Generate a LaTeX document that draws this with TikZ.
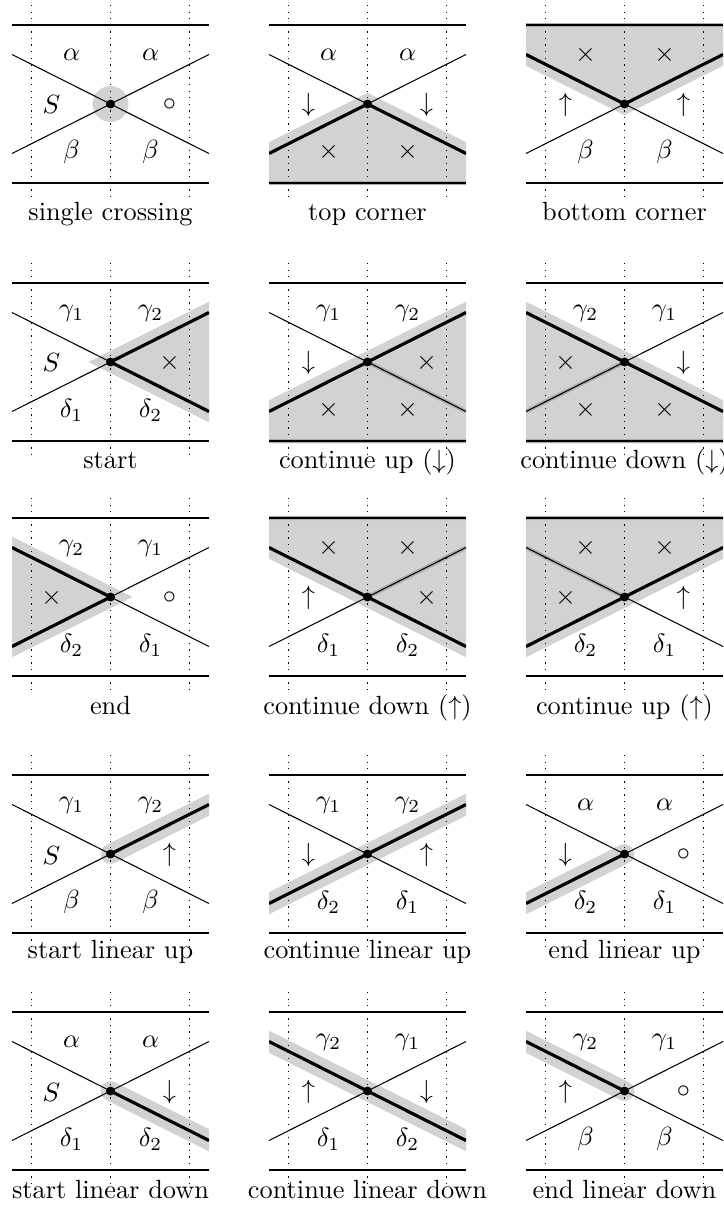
\documentclass[tikz,border=0pt]{standalone}
\usepackage{amsmath}
\usepackage{amssymb}
\begin{document}
\begin{tikzpicture}[x=0.38pt,y=-0.38pt,
  guide/.style={dotted,line width=0.5pt},
  edge line/.style={line width=0.4pt},
  bold line/.style={line width=1.2pt},
  halo/.style={draw=gray!35,line width=7.5pt,line join=miter},
  rim/.style={draw=gray!65,line width=1.6pt},
  region/.style={fill=gray!35},
  crossdot/.style={circle,fill=black,inner sep=0pt,minimum size=3.4pt},
  tag/.style={inner sep=0pt}]

\useasboundingbox (0,0) rectangle (723,1216);

%crossing points
\foreach \cx/\cy [count=\i] in {110.5/104,367.5/104,624.5/104,
  110.5/362,367.5/362,624.5/362,
  110.5/597,367.5/597,624.5/597,
  110.5/854,367.5/854,624.5/854,
  110.5/1091,367.5/1091,624.5/1091}
  \coordinate (c\i) at (\cx,\cy);

%single crossing
\fill[gray!35] (c1) circle[radius=18];

%top corner
\begin{scope}[shift={(c2)}]
\clip (-98.5,-90) rectangle (98.5,90);
\fill[region] (-98.5,49.5) -- (0,0) -- (98.5,49.5) -- (98.5,81) -- (-98.5,81) -- cycle;
\draw[halo] (-140,70) -- (0,0) -- (140,70);
\draw[rim] (-98.5,79) -- (98.5,79);
\draw[bold line] (-98.5,49.5) -- (0,0) -- (98.5,49.5);
\end{scope}

%bottom corner
\begin{scope}[shift={(c3)}]
\clip (-98.5,-90) rectangle (98.5,90);
\fill[region] (-98.5,-49.5) -- (0,0) -- (98.5,-49.5) -- (98.5,-81) -- (-98.5,-81) -- cycle;
\draw[halo] (-140,-70) -- (0,0) -- (140,-70);
\draw[rim] (-98.5,-79) -- (98.5,-79);
\draw[bold line] (-98.5,-49.5) -- (0,0) -- (98.5,-49.5);
\end{scope}

%start
\begin{scope}[shift={(c4)}]
\clip (-98.5,-90) rectangle (98.5,90);
\fill[region] (0,0) -- (98.5,-49.5) -- (98.5,49.5) -- cycle;
\draw[halo] (140,-70) -- (0,0) -- (140,70);
\draw[bold line] (98.5,-49.5) -- (0,0) -- (98.5,49.5);
\end{scope}

%continue up, down arrow
\begin{scope}[shift={(c5)}]
\clip (-98.5,-90) rectangle (98.5,90);
\fill[region] (-98.5,49.5) -- (98.5,-49.5) -- (98.5,81) -- (-98.5,81) -- cycle;
\draw[halo] (-140,70) -- (140,-70);
\draw[rim] (-98.5,79) -- (98.5,79) (0,0) -- (98.5,49.5);
\draw[bold line] (-98.5,49.5) -- (98.5,-49.5);
\end{scope}

%continue down, down arrow
\begin{scope}[shift={(c6)}]
\clip (-98.5,-90) rectangle (98.5,90);
\fill[region] (-98.5,-49.5) -- (98.5,49.5) -- (98.5,81) -- (-98.5,81) -- cycle;
\draw[halo] (-140,-70) -- (140,70);
\draw[rim] (-98.5,79) -- (98.5,79) (0,0) -- (-98.5,49.5);
\draw[bold line] (-98.5,-49.5) -- (98.5,49.5);
\end{scope}

%end
\begin{scope}[shift={(c7)}]
\clip (-98.5,-90) rectangle (98.5,90);
\fill[region] (0,0) -- (-98.5,-49.5) -- (-98.5,49.5) -- cycle;
\draw[halo] (-140,-70) -- (0,0) -- (-140,70);
\draw[bold line] (-98.5,-49.5) -- (0,0) -- (-98.5,49.5);
\end{scope}

%continue down, up arrow
\begin{scope}[shift={(c8)}]
\clip (-98.5,-90) rectangle (98.5,90);
\fill[region] (-98.5,-49.5) -- (98.5,49.5) -- (98.5,-81) -- (-98.5,-81) -- cycle;
\draw[halo] (-140,-70) -- (140,70);
\draw[rim] (-98.5,-79) -- (98.5,-79) (0,0) -- (98.5,-49.5);
\draw[bold line] (-98.5,-49.5) -- (98.5,49.5);
\end{scope}

%continue up, up arrow
\begin{scope}[shift={(c9)}]
\clip (-98.5,-90) rectangle (98.5,90);
\fill[region] (-98.5,49.5) -- (98.5,-49.5) -- (98.5,-81) -- (-98.5,-81) -- cycle;
\draw[halo] (-140,70) -- (140,-70);
\draw[rim] (-98.5,-79) -- (98.5,-79) (0,0) -- (-98.5,-49.5);
\draw[bold line] (-98.5,49.5) -- (98.5,-49.5);
\end{scope}

%linear ones
\begin{scope}[shift={(c10)}]
\clip (-98.5,-90) rectangle (98.5,90);
\draw[halo,line cap=round] (0,0) -- (140,-70);
\draw[bold line] (0,0) -- (98.5,-49.5);
\end{scope}
\begin{scope}[shift={(c11)}]
\clip (-98.5,-90) rectangle (98.5,90);
\draw[halo] (-140,70) -- (140,-70);
\draw[bold line] (-98.5,49.5) -- (98.5,-49.5);
\end{scope}
\begin{scope}[shift={(c12)}]
\clip (-98.5,-90) rectangle (98.5,90);
\draw[halo,line cap=round] (0,0) -- (-140,70);
\draw[bold line] (-98.5,49.5) -- (0,0);
\end{scope}
\begin{scope}[shift={(c13)}]
\clip (-98.5,-90) rectangle (98.5,90);
\draw[halo,line cap=round] (0,0) -- (140,70);
\draw[bold line] (0,0) -- (98.5,49.5);
\end{scope}
\begin{scope}[shift={(c14)}]
\clip (-98.5,-90) rectangle (98.5,90);
\draw[halo] (-140,-70) -- (140,70);
\draw[bold line] (-98.5,-49.5) -- (98.5,49.5);
\end{scope}
\begin{scope}[shift={(c15)}]
\clip (-98.5,-90) rectangle (98.5,90);
\draw[halo,line cap=round] (0,0) -- (-140,-70);
\draw[bold line] (-98.5,-49.5) -- (0,0);
\end{scope}

%frames
\foreach \i in {1,...,15} {
  \begin{scope}[shift={(c\i)}]
  \foreach \dx in {-79,0,79}
    \draw[guide] (\dx,-99) -- (\dx,95);
  \draw[edge line] (-98.5,-79) -- (98.5,-79) (-98.5,79) -- (98.5,79);
  \draw[edge line] (-98.5,-49.5) -- (98.5,49.5) (-98.5,49.5) -- (98.5,-49.5);
  \end{scope}
  \node[crossdot] (x\i) at (c\i) {};
}

%labels
\foreach \tl/\tr/\lf/\rt/\bl/\br [count=\i] in {
  \alpha/\alpha/S/\circ/\beta/\beta,
  \alpha/\alpha/\downarrow/\downarrow/\times/\times,
  \times/\times/\uparrow/\uparrow/\beta/\beta,
  \gamma_1/\gamma_2/S/\times/\delta_1/\delta_2,
  \gamma_1/\gamma_2/\downarrow/\times/\times/\times,
  \gamma_2/\gamma_1/\times/\downarrow/\times/\times,
  \gamma_2/\gamma_1/\times/\circ/\delta_2/\delta_1,
  \times/\times/\uparrow/\times/\delta_1/\delta_2,
  \times/\times/\times/\uparrow/\delta_2/\delta_1,
  \gamma_1/\gamma_2/S/\uparrow/\beta/\beta,
  \gamma_1/\gamma_2/\downarrow/\uparrow/\delta_2/\delta_1,
  \alpha/\alpha/\downarrow/\circ/\delta_2/\delta_1,
  \alpha/\alpha/S/\downarrow/\delta_1/\delta_2,
  \gamma_2/\gamma_1/\uparrow/\downarrow/\delta_1/\delta_2,
  \gamma_2/\gamma_1/\uparrow/\circ/\beta/\beta} {
  \node[tag] (tl\i) at ([shift={(-39,-49)}]c\i) {$\tl$};
  \node[tag] (tr\i) at ([shift={(40,-49)}]c\i) {$\tr$};
  \node[tag] (lf\i) at ([shift={(-59,1)}]c\i) {$\lf$};
  \node[tag] (rt\i) at ([shift={(59,1)}]c\i) {$\rt$};
  \node[tag] (bl\i) at ([shift={(-39,48)}]c\i) {$\bl$};
  \node[tag] (br\i) at ([shift={(40,48)}]c\i) {$\br$};
}

%captions
\foreach \cap/\off [count=\i] in {
  single crossing/116, top corner/116, bottom corner/116,
  start/106, continue up ($\downarrow$)/106, continue down ($\downarrow$)/106,
  end/117, continue down ($\uparrow$)/117, continue up ($\uparrow$)/117,
  start linear up/104, continue linear up/104, end linear up/104,
  start linear down/107, continue linear down/107, end linear down/107}
  \node[anchor=base,inner sep=0pt] (cap\i) at ([shift={(0,\off)}]c\i) {\cap};

\end{tikzpicture}
\end{document}
